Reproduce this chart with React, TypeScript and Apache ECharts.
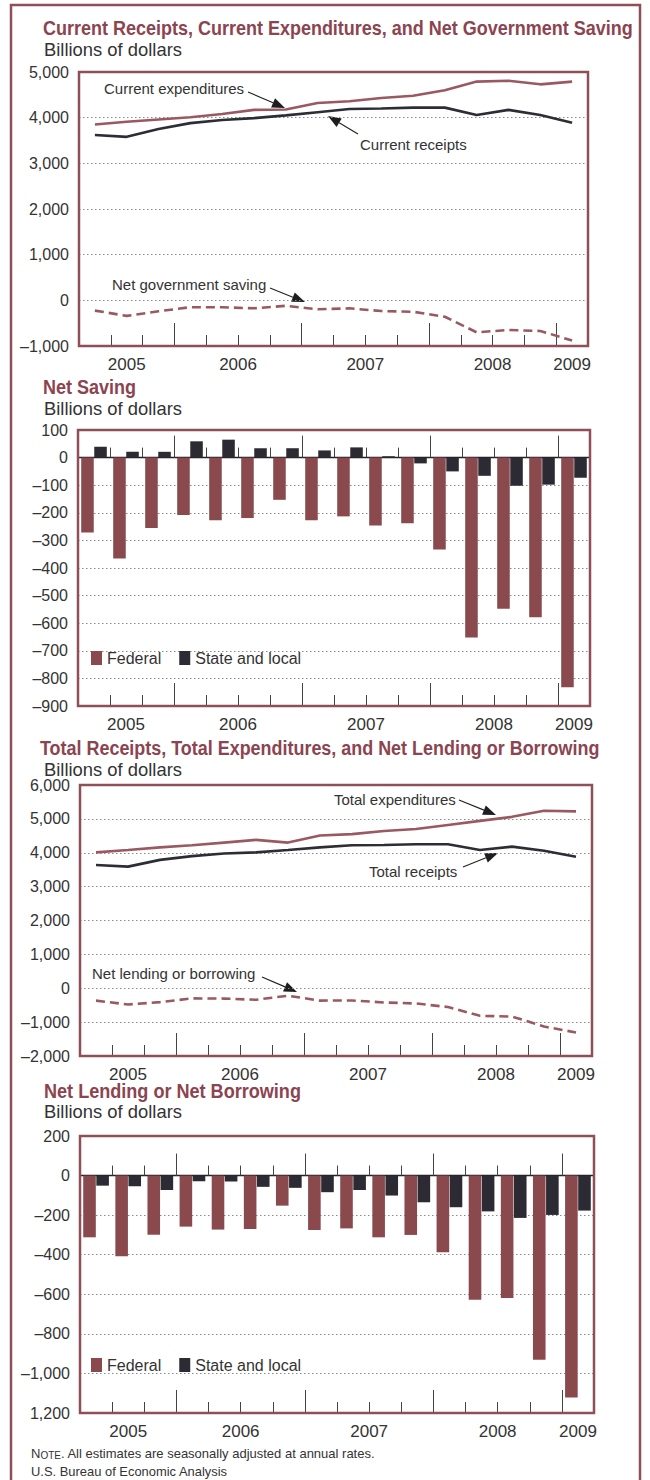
import React, { useEffect, useRef } from "react";
import * as echarts from "echarts";

// ---------------- data ----------------
const quarters = [
  "2005 Q2", "2005 Q3", "2005 Q4",
  "2006 Q1", "2006 Q2", "2006 Q3", "2006 Q4",
  "2007 Q1", "2007 Q2", "2007 Q3", "2007 Q4",
  "2008 Q1", "2008 Q2", "2008 Q3", "2008 Q4",
  "2009 Q1",
];
const yearLabels = ["2005", "2006", "2007", "2008", "2009"];

// Panel 1: Current receipts, current expenditures, net government saving
const currentExpenditures = [3850, 3910, 3960, 4010, 4080, 4170, 4180, 4320, 4360, 4430, 4480, 4600, 4790, 4810, 4730, 4790];
const currentReceipts = [3620, 3580, 3750, 3880, 3950, 3990, 4050, 4120, 4190, 4200, 4220, 4220, 4060, 4170, 4060, 3890];
const netGovernmentSaving = [-225, -340, -240, -150, -150, -175, -120, -195, -175, -235, -250, -360, -700, -650, -670, -880];

// Panel 2: Net saving
const federalNetSaving = [-271, -366, -255, -208, -227, -219, -153, -227, -213, -246, -238, -333, -652, -548, -578, -832];
const stateLocalNetSaving = [39, 21, 21, 59, 65, 34, 34, 26, 37, 5, -21, -50, -66, -102, -98, -73];

// Panel 3: Total receipts, total expenditures, net lending or borrowing
const totalExpenditures = [4010, 4080, 4160, 4220, 4300, 4380, 4300, 4510, 4550, 4640, 4700, 4820, 4940, 5060, 5240, 5220];
const totalReceipts = [3640, 3590, 3790, 3900, 3980, 4010, 4080, 4160, 4220, 4230, 4250, 4250, 4080, 4180, 4060, 3880];
const netLendingBorrowing = [-365, -480, -410, -300, -305, -340, -220, -365, -360, -420, -450, -555, -815, -835, -1130, -1305];

// Panel 4: Net lending or net borrowing
const federalNetLending = [-312, -408, -299, -258, -273, -270, -152, -275, -267, -312, -300, -388, -628, -619, -931, -1122];
const stateLocalNetLending = [-51, -54, -73, -29, -30, -57, -62, -84, -73, -101, -135, -160, -181, -214, -199, -177];

// value-axis scales (min, max, step)
const scale1 = [-1000, 5000, 1000];
const scale2 = [-900, 100, 100];
const scale3 = [-2000, 6000, 1000];
const scale4 = [-1200, 200, 200];

const titles = [
  "Current Receipts, Current Expenditures, and Net Government Saving",
  "Net Saving",
  "Total Receipts, Total Expenditures, and Net Lending or Borrowing",
  "Net Lending or Net Borrowing",
];
const unitLabel = "Billions of dollars";
const legendNames = ["Federal", "State and local"];

// ---------------- styles ----------------
const FONT = '"Liberation Sans", Arial, Helvetica, sans-serif';
const TITLE = "#8b4450";
const FRAME = "#8f4f58";
const FED = "#8a4a4d";
const STATE = "#2c2b33";
const EXP = "#9a5960";
const REC = "#2d2d35";
const TEXT = "#333333";

let measureCtx: CanvasRenderingContext2D | null = null;
function textWidth(text: string, font: string): number {
  if (!measureCtx) measureCtx = document.createElement("canvas").getContext("2d");
  if (!measureCtx) return text.length * 8;
  measureCtx.font = font;
  return measureCtx.measureText(text).width;
}

function fitted(text: string, x: number, y: number, size: number, weight: string, color: string, width: number) {
  const w = textWidth(text, `${weight} ${size}px ${FONT}`);
  return {
    type: "text",
    x,
    y,
    scaleX: width / w,
    z: 50,
    silent: true,
    style: {
      text,
      fontSize: size,
      fontWeight: weight,
      fontFamily: FONT,
      fill: color,
      align: "left",
      textAlign: "left",
      verticalAlign: "middle",
      textVerticalAlign: "middle",
    },
  };
}

function label(text: string, x: number, y: number) {
  return {
    type: "text",
    x,
    y,
    z: 50,
    silent: true,
    style: {
      text,
      fontSize: 15,
      fontFamily: FONT,
      fill: TEXT,
      align: "left",
      textAlign: "left",
      verticalAlign: "middle",
      textVerticalAlign: "middle",
    },
  };
}

function arrow(x1: number, y1: number, x2: number, y2: number) {
  const dx = x2 - x1, dy = y2 - y1;
  const L = Math.hypot(dx, dy);
  const ux = dx / L, uy = dy / L;
  const hl = 13, hw = 5;
  const bx = x2 - ux * hl, by = y2 - uy * hl;
  return {
    type: "group",
    z: 50,
    silent: true,
    children: [
      { type: "line", shape: { x1, y1, x2: bx, y2: by }, style: { stroke: "#222", lineWidth: 1.1 } },
      {
        type: "polygon",
        shape: { points: [[x2, y2], [bx - uy * hw, by + ux * hw], [bx + uy * hw, by - ux * hw]] },
        style: { fill: "#1e1e22" },
      },
    ],
  };
}

function fmtNum(v: number) {
  const s = Math.abs(v).toLocaleString("en-US");
  return v < 0 ? "\u2013" + s : s;
}

const isYearStart = (i: number) => quarters[i] !== undefined && quarters[i].endsWith("Q1");

// year label positions in half-quarter units, derived from the quarter list
const yearLabelAt: Record<number, string> = {};
yearLabels.forEach((y) => {
  const idx = quarters.map((q, i) => (q.startsWith(y) ? i : -1)).filter((i) => i >= 0);
  if (idx.length) yearLabelAt[idx[0] + idx[idx.length - 1] + 1] = y;
});

type Panel = { left: number; top: number; right: number; bottom: number; scale: number[]; bars: boolean; fmt: (v: number) => string };

const panels: Panel[] = [
  { left: 79, top: 72, right: 588, bottom: 346, scale: scale1, bars: false, fmt: fmtNum },
  { left: 78, top: 430, right: 590, bottom: 706, scale: scale2, bars: true, fmt: fmtNum },
  { left: 80, top: 785, right: 592, bottom: 1056, scale: scale3, bars: false, fmt: fmtNum },
  // the reference prints the bottom tick of this panel without its minus sign
  { left: 80, top: 1136, right: 594, bottom: 1413, scale: scale4, bars: true, fmt: (v: number) => (v === scale4[0] ? Math.abs(v).toLocaleString("en-US") : fmtNum(v)) },
];

function buildOption() {
  const grid: any[] = [];
  const xAxis: any[] = [];
  const yAxis: any[] = [];
  const series: any[] = [];
  const graphic: any[] = [];

  const catBase = {
    type: "category",
    data: quarters,
    boundaryGap: true,
    axisLabel: { show: false },
    splitLine: { show: false },
  };

  const mains: number[] = [];

  panels.forEach((p) => {
    const [min, max, step] = p.scale;
    const add = (x: any, y: any) => {
      grid.push({ left: p.left, top: p.top, width: p.right - p.left, height: p.bottom - p.top, show: false });
      const gi = grid.length - 1;
      xAxis.push({ ...x, gridIndex: gi });
      yAxis.push({ ...y, gridIndex: gi });
      return gi;
    };
    const hiddenY = { type: "value", min, max, interval: step, show: false };

    // main grid: series, y labels, grid lines, bottom minor ticks
    const g = add(
      {
        ...catBase,
        axisLine: { show: false, onZero: false },
        axisTick: { show: true, inside: true, length: 11, interval: 0, lineStyle: { color: "#444", width: 1 } },
      },
      {
        type: "value",
        min,
        max,
        interval: step,
        axisLine: { show: false },
        axisTick: { show: false },
        axisLabel: { fontSize: 16, color: TEXT, margin: 10, fontFamily: FONT, formatter: p.fmt },
        splitLine: { show: true, lineStyle: { type: [1.5, 2.5], color: "#8a8a8a", width: 1 } },
      }
    );
    mains.push(g);

    // bottom major (year) ticks
    add(
      {
        ...catBase,
        axisLine: { show: false, onZero: false },
        axisTick: { show: true, inside: true, length: 23, interval: (i: number) => isYearStart(i), lineStyle: { color: "#444", width: 1 } },
      },
      hiddenY
    );

    // year labels
    add(
      {
        type: "value",
        min: 0,
        max: quarters.length * 2,
        interval: 1,
        axisLine: { show: false, onZero: false },
        axisTick: { show: false },
        splitLine: { show: false },
        axisLabel: {
          show: true,
          margin: 10,
          fontSize: 17,
          color: TEXT,
          fontFamily: FONT,
          formatter: (v: number) => yearLabelAt[v] ?? "",
        },
      },
      hiddenY
    );

    if (p.bars) {
      // zero line with minor ticks
      add(
        {
          ...catBase,
          axisLine: { show: true, onZero: true, lineStyle: { color: "#222", width: 1.3 } },
          axisTick: { show: true, inside: true, length: 10, interval: 0, lineStyle: { color: "#444", width: 1 } },
        },
        hiddenY
      );
      // zero line major ticks
      add(
        {
          ...catBase,
          axisLine: { show: false, onZero: true },
          axisTick: { show: true, inside: true, length: 22, interval: (i: number) => isYearStart(i), lineStyle: { color: "#444", width: 1 } },
        },
        hiddenY
      );
    }

    // plot frame
    graphic.push({
      type: "rect",
      z: 100,
      silent: true,
      shape: { x: p.left, y: p.top, width: p.right - p.left, height: p.bottom - p.top },
      style: { fill: "none", stroke: FRAME, lineWidth: 2.5 },
    });
  });

  const lineSeries = (name: string, g: number, data: number[], color: string, dashed = false) => ({
    type: "line",
    name,
    xAxisIndex: g,
    yAxisIndex: g,
    data,
    symbol: "none",
    silent: true,
    z: 5,
    lineStyle: { color, width: 2.6, type: dashed ? [9, 5] : "solid" },
    itemStyle: { color },
  });
  const barSeries = (name: string, g: number, data: number[], color: string) => ({
    type: "bar",
    name,
    xAxisIndex: g,
    yAxisIndex: g,
    data,
    silent: true,
    barGap: "4%",
    barCategoryGap: "20%",
    itemStyle: { color },
  });

  series.push(lineSeries("Current expenditures", mains[0], currentExpenditures, EXP));
  series.push(lineSeries("Current receipts", mains[0], currentReceipts, REC));
  series.push(lineSeries("Net government saving", mains[0], netGovernmentSaving, EXP, true));
  series.push(barSeries(legendNames[0], mains[1], federalNetSaving, FED));
  series.push(barSeries(legendNames[1], mains[1], stateLocalNetSaving, STATE));
  series.push(lineSeries("Total expenditures", mains[2], totalExpenditures, EXP));
  series.push(lineSeries("Total receipts", mains[2], totalReceipts, REC));
  series.push(lineSeries("Net lending or borrowing", mains[2], netLendingBorrowing, EXP, true));
  series.push(barSeries(legendNames[0], mains[3], federalNetLending, FED));
  series.push(barSeries(legendNames[1], mains[3], stateLocalNetLending, STATE));

  // outer frame
  graphic.push({
    type: "rect",
    z: 100,
    silent: true,
    shape: { x: 11, y: 5, width: 629, height: 1500 },
    style: { fill: "none", stroke: FRAME, lineWidth: 2.5 },
  });

  // headings
  const headY = [
    [27.6, 49.7],
    [386.6, 408.7],
    [747.6, 769.7],
    [1090.6, 1111.7],
  ];
  const titleX = [43, 43, 40, 44];
  const titleW = [590, 93, 560, 257];
  titles.forEach((t, i) => {
    graphic.push(fitted(t, titleX[i], headY[i][0], 21, "bold", TITLE, titleW[i]));
    graphic.push(fitted(unitLabel, 44, headY[i][1], 18, "normal", TEXT, 138));
  });

  // annotations
  graphic.push(label("Current expenditures", 104, 88), arrow(248, 92, 285, 108));
  graphic.push(label("Current receipts", 360, 144), arrow(358, 134, 328, 116));
  graphic.push(label("Net government saving", 112, 284), arrow(270, 288, 305, 302));
  graphic.push(label("Total expenditures", 334, 799), arrow(459, 800, 496, 815));
  graphic.push(label("Total receipts", 369, 871), arrow(463, 867, 498, 853));
  graphic.push(label("Net lending or borrowing", 92, 973), arrow(262, 977, 297, 992));

  // note
  graphic.push({
    type: "text",
    x: 31,
    y: 1460,
    z: 50,
    silent: true,
    style: {
      text: "{a|N}{b|OTE}{a|. All estimates are seasonally adjusted at annual rates.}",
      fontFamily: FONT,
      fill: TEXT,
      align: "left",
      textAlign: "left",
      verticalAlign: "bottom",
      textVerticalAlign: "bottom",
      rich: {
        a: { fontSize: 13, fontFamily: FONT, fill: TEXT, verticalAlign: "bottom" },
        b: { fontSize: 10, fontFamily: FONT, fill: TEXT, verticalAlign: "bottom" },
      },
    },
  });
  graphic.push(fitted("U.S. Bureau of Economic Analysis", 31, 1471, 13, "normal", TEXT, 197));

  const legendBase = {
    left: 91,
    padding: 0,
    itemWidth: 11,
    itemHeight: 14,
    itemGap: 18,
    icon: "rect",
    selectedMode: false,
    data: legendNames,
    textStyle: { fontSize: 16, color: TEXT, fontFamily: FONT },
  };

  return {
    animation: false,
    backgroundColor: "#ffffff",
    textStyle: { fontFamily: FONT },
    grid,
    xAxis,
    yAxis,
    series,
    legend: [
      { ...legendBase, top: 650 },
      { ...legendBase, top: 1357 },
    ],
    graphic: { elements: graphic },
  };
}

export default function App() {
  const ref = useRef<HTMLDivElement>(null);
  useEffect(() => {
    document.body.style.margin = "0";
    if (!ref.current) return;
    const chart = echarts.init(ref.current, undefined, { renderer: "svg" });
    chart.setOption(buildOption() as any);
    return () => chart.dispose();
  }, []);
  return <div ref={ref} style={{ width: 650, height: 1480 }} />;
}
